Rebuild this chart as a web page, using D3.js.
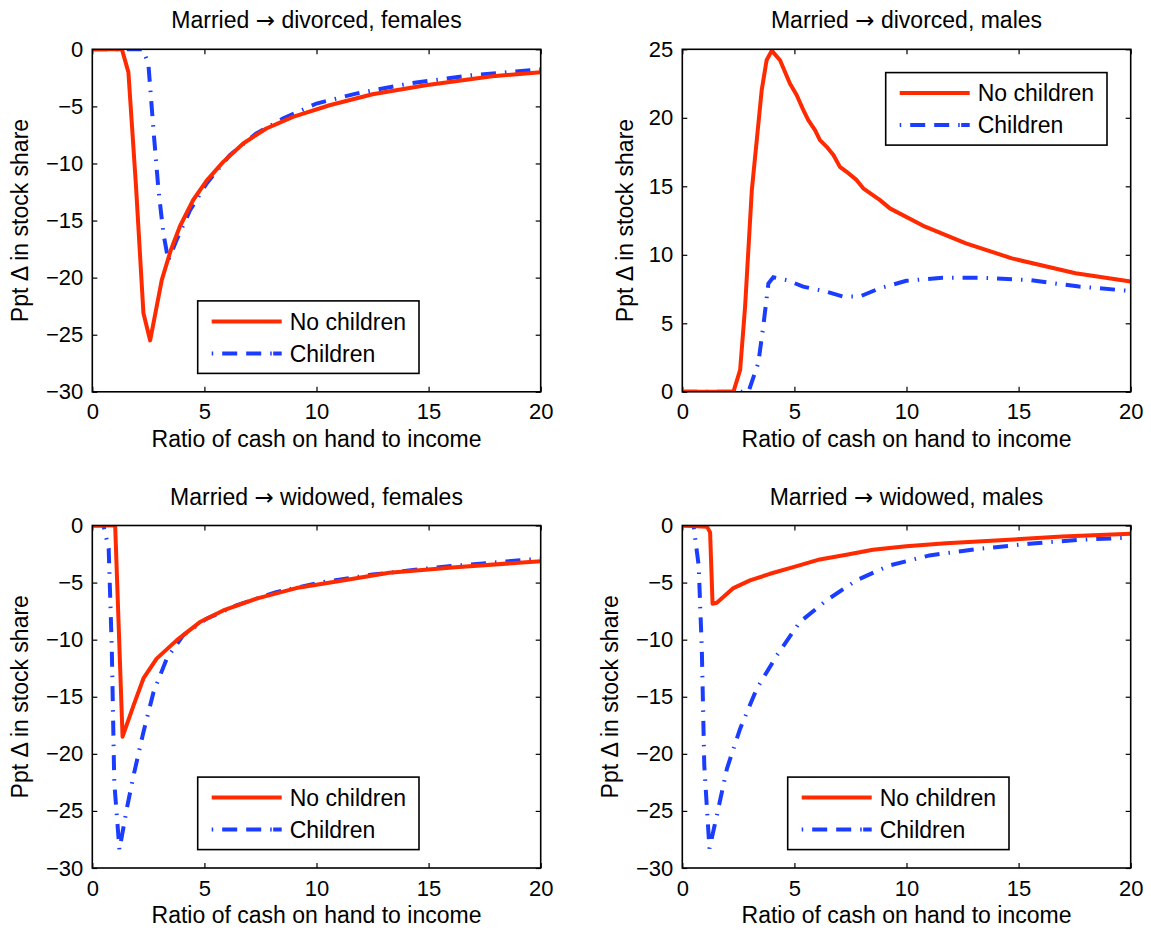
<!DOCTYPE html>
<html>
<head>
<meta charset="utf-8">
<script src="https://cdn.jsdelivr.net/npm/d3@7"></script>
<style>
  html, body { margin: 0; padding: 0; background: #fff; }
  svg { display: block; font-family: "Liberation Sans", Arial, Helvetica, sans-serif; }
  .arrow { font-family: "DejaVu Sans", sans-serif; }
</style>
</head>
<body>
<svg id="chart" width="1151" height="930"></svg>
<script>
// Change in stock share (percentage points) against cash-on-hand / income,
// for households without and with children.

const xTicks = [0, 5, 10, 15, 20];
const negTicks = [-30, -25, -20, -15, -10, -5, 0];
const posTicks = [0, 5, 10, 15, 20, 25];
const seriesNames = ["No children", "Children"];
// [before arrow, after arrow]
const titles = [
  ["Married", "divorced, females"],
  ["Married", "divorced, males"],
  ["Married", "widowed, females"],
  ["Married", "widowed, males"]
];

// Married -> divorced, females
const divFemNone = [[0,0],[1.32,0],[1.61,-2.0],[1.95,-12],[2.28,-23.1],[2.58,-25.5],[3.1,-20.2],
  [3.5,-17.6],[3.91,-15.5],[4.5,-13.2],[5.1,-11.5],[5.84,-9.86],[6.73,-8.25],[7.76,-6.94],[8.95,-5.92],
  [10.58,-4.9],[12.5,-3.94],[14.87,-3.15],[17.84,-2.36],[20,-2.02]];
const divFemKids = [[0,0],[2.25,0],[2.5,-1.25],[2.73,-7.1],[2.95,-12.3],[3.17,-16.1],[3.39,-18.5],
  [3.76,-16.7],[4.36,-14.1],[5.1,-11.75],[6.13,-9.27],[7.3,-7.4],[8.5,-6.07],[10,-4.75],
  [11.76,-3.88],[14.13,-3.0],[16.9,-2.27],[20,-1.76]];

// Married -> divorced, males
const divMalNone = [[0,0],[2.28,0],[2.58,1.6],[2.8,6.2],[3.1,14.7],[3.54,22.0],[3.76,24.2],[3.99,24.9],
  [4.36,24.2],[4.8,22.5],[5.1,21.66],[5.4,20.56],[5.62,19.83],[5.92,19.1],[6.14,18.37],[6.44,17.88],
  [6.74,17.28],[7.03,16.42],[7.33,16.06],[7.78,15.45],[8.07,14.85],[8.82,13.99],[9.26,13.39],
  [10.83,12.05],[12.65,10.84],[14.7,9.74],[17.54,8.65],[20,8.05]];
const divMalKids = [[0,0],[2.95,0],[3.39,2.1],[3.61,4.76],[3.84,7.9],[4.06,8.36],[4.65,8.16],
  [5.39,7.68],[6.43,7.31],[7.17,6.95],[7.91,6.95],[8.8,7.55],[9.99,8.1],[11.6,8.33],
  [13.24,8.33],[15.47,8.16],[17.7,7.68],[20,7.36]];

// Married -> widowed, females
const widFemNone = [[0,0],[1.02,0],[1.35,-18.5],[1.84,-15.75],[2.28,-13.4],[2.87,-11.66],[3.76,-10.06],
  [4.8,-8.46],[5.84,-7.44],[7.32,-6.41],[9.1,-5.48],[11.17,-4.81],[13.24,-4.14],[16.2,-3.65],
  [20,-3.13]];
const widFemKids = [[0,0],[0.5,0],[0.73,-2.0],[0.87,-10.8],[0.98,-22.5],[1.21,-28.4],[1.54,-24.8],
  [1.84,-21.9],[2.28,-18.1],[2.73,-14.6],[3.32,-11.66],[4.06,-9.6],[5.1,-8.16],[6.43,-7.0],
  [8.2,-5.83],[10.28,-4.96],[12.5,-4.3],[15.47,-3.65],[20,-2.9]];

// Married -> widowed, males
const widMalNone = [[0,0],[1.1,-0.1],[1.24,-0.6],[1.35,-6.85],[1.54,-6.77],[2.28,-5.48],[3.02,-4.81],
  [3.91,-4.23],[4.95,-3.65],[6.13,-2.97],[7.32,-2.56],[8.5,-2.13],[9.99,-1.81],[11.76,-1.55],
  [13.99,-1.31],[16.95,-0.96],[20,-0.72]];
const widMalKids = [[0,0],[0.5,0],[0.73,-3.5],[0.87,-10.8],[0.98,-21],[1.21,-28.3],[1.54,-25.4],
  [1.99,-21.3],[2.58,-17.8],[3.32,-14.3],[4.21,-11.4],[5.24,-8.46],[6.43,-6.56],[7.76,-4.81],
  [9.24,-3.5],[11.02,-2.62],[13.24,-2.04],[15.47,-1.6],[17.7,-1.25],[20,-1.06]];

const RED = "#ff2a00";
const BLUE = "#1a3dff";
const DASHDOT = "15 9 1.5 9";

const panels = [
  { title: titles[0], col: 0, row: 0, yDomain: [-30, 0], yTicks: negTicks, none: divFemNone, kids: divFemKids, legend: "bottom" },
  { title: titles[1], col: 1, row: 0, yDomain: [0, 25],  yTicks: posTicks, none: divMalNone, kids: divMalKids, legend: "topright" },
  { title: titles[2], col: 0, row: 1, yDomain: [-30, 0], yTicks: negTicks, none: widFemNone, kids: widFemKids, legend: "bottom" },
  { title: titles[3], col: 1, row: 1, yDomain: [-30, 0], yTicks: negTicks, none: widMalNone, kids: widMalKids, legend: "bottom" }
];

const svg = d3.select("#chart");
const colX = [92.3, 682.3];
const rowY = [49.3, 525.5];
const W = 448.4, H = 342.5;
const LABEL_SIZE = "23px";
const TICK_SIZE = "22px";
const fmt = v => (v < 0 ? "\u2212" + Math.abs(v) : String(v));

panels.forEach(p => {
  const x0 = colX[p.col], y0 = rowY[p.row];
  const g = svg.append("g").attr("transform", `translate(${x0},${y0})`);
  const x = d3.scaleLinear().domain([0, 20]).range([0, W]);
  const y = d3.scaleLinear().domain(p.yDomain).range([H, 0]);

  // Tick marks pointing inward on all four sides
  const tickLen = 5;
  const axStyle = sel => {
    sel.select(".domain").remove();
    sel.selectAll(".tick line").attr("stroke", "#000").attr("stroke-width", 1.2);
    sel.selectAll(".tick text").attr("fill", "#000").style("font-size", TICK_SIZE);
  };
  g.append("g").attr("transform", `translate(0,${H})`)
    .call(d3.axisBottom(x).tickValues(xTicks).tickSize(-tickLen).tickPadding(12).tickFormat(fmt))
    .call(axStyle)
    .call(s => s.selectAll(".tick text").attr("dy", "0.71em"));
  g.append("g")
    .call(d3.axisTop(x).tickValues(xTicks).tickSize(-tickLen).tickFormat(""))
    .call(axStyle);
  g.append("g")
    .call(d3.axisLeft(y).tickValues(p.yTicks).tickSize(-tickLen).tickPadding(9).tickFormat(fmt))
    .call(axStyle);
  g.append("g").attr("transform", `translate(${W},0)`)
    .call(d3.axisRight(y).tickValues(p.yTicks).tickSize(-tickLen).tickFormat(""))
    .call(axStyle);

  // Data lines
  const line = d3.line().x(d => x(d[0])).y(d => y(d[1]));
  const clipId = "clip" + p.col + p.row;
  g.append("clipPath").attr("id", clipId).append("rect").attr("width", W).attr("height", H);
  const plot = g.append("g").attr("clip-path", `url(#${clipId})`);
  plot.append("path").datum(p.kids).attr("d", line)
    .attr("fill", "none").attr("stroke", BLUE).attr("stroke-width", 4)
    .attr("stroke-dasharray", DASHDOT);
  plot.append("path").datum(p.none).attr("d", line)
    .attr("fill", "none").attr("stroke", RED).attr("stroke-width", 4)
    .attr("stroke-linejoin", "round");

  // Axes box
  g.append("rect").attr("width", W).attr("height", H)
    .attr("fill", "none").attr("stroke", "#000").attr("stroke-width", 1.6);

  // Title and axis labels
  const t = g.append("text").attr("x", W / 2).attr("y", -21)
    .attr("text-anchor", "middle").style("font-size", LABEL_SIZE);
  t.append("tspan").text(p.title[0] + " ");
  t.append("tspan").attr("class", "arrow").text("\u2192");
  t.append("tspan").text(" " + p.title[1]);
  g.append("text").attr("x", W / 2).attr("y", H + 55)
    .attr("text-anchor", "middle").style("font-size", LABEL_SIZE).text("Ratio of cash on hand to income");
  const labelOff = p.yDomain[0] < 0 ? 64 : 49;
  g.append("text")
    .attr("transform", `translate(${-labelOff},${H / 2}) rotate(-90)`)
    .attr("text-anchor", "middle").style("font-size", LABEL_SIZE).text("Ppt \u0394 in stock share");

  // Legend
  const lw = 221.3, lh = 72.5;
  const lx = p.legend === "topright" ? W - 23.7 - lw : 105.4;
  const ly = p.legend === "topright" ? 23.3 : H - 18.4 - lh;
  const lg = g.append("g").attr("transform", `translate(${lx},${ly})`);
  lg.append("rect").attr("width", lw).attr("height", lh)
    .attr("fill", "#fff").attr("stroke", "#000").attr("stroke-width", 1.6);
  const entries = [
    { name: seriesNames[0], color: RED, dash: null, yy: 20.5 },
    { name: seriesNames[1], color: BLUE, dash: DASHDOT, yy: 52.5 }
  ];
  entries.forEach(e => {
    lg.append("line").attr("x1", 14).attr("x2", 84).attr("y1", e.yy).attr("y2", e.yy)
      .attr("stroke", e.color).attr("stroke-width", 4)
      .attr("stroke-dasharray", e.dash ? "1.5 9 15 9 15 9 1.5" : null);
    lg.append("text").attr("x", 92).attr("y", e.yy).attr("dy", "0.36em")
      .style("font-size", LABEL_SIZE).text(e.name);
  });
});
</script>
</body>
</html>
